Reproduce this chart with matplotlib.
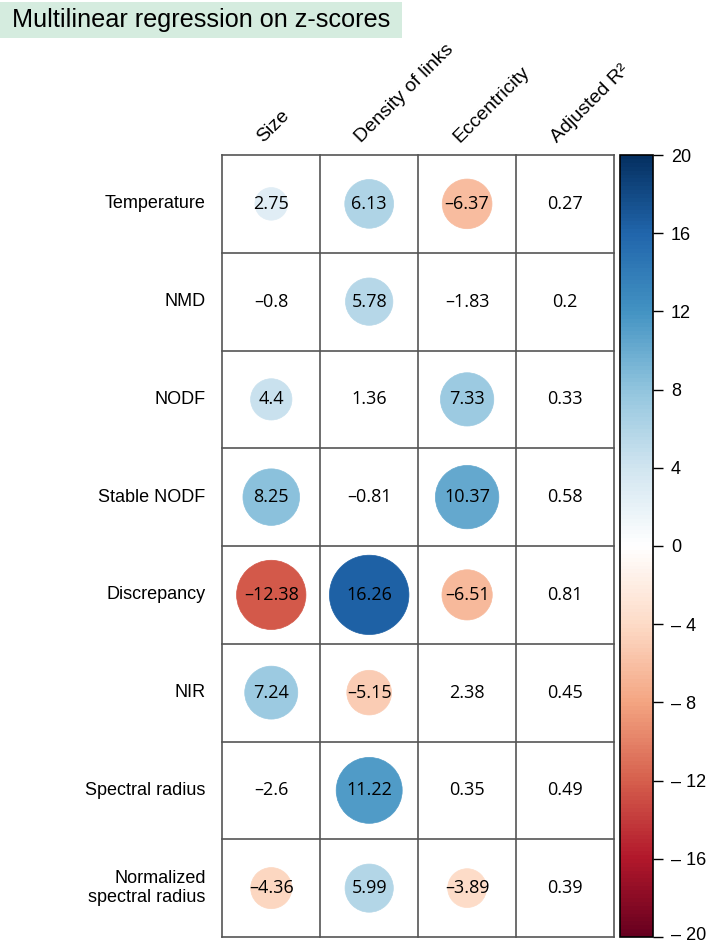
"""Multilinear regression on z-scores, corrplot-style circle grid."""
import numpy as np
import matplotlib
matplotlib.use("Agg")
import matplotlib.pyplot as plt
import matplotlib.patches as mpatches
import matplotlib.transforms as mtransforms
from matplotlib.colors import LinearSegmentedColormap, Normalize
from matplotlib.colorbar import ColorbarBase

ROWS = ["Temperature", "NMD", "NODF", "Stable NODF", "Discrepancy", "NIR",
        "Spectral radius", "Normalized\nspectral radius"]
COLS = ["Size", "Density of links", "Eccentricity", "Adjusted R²"]

size_z = [2.75, -0.8, 4.4, 8.25, -12.38, 7.24, -2.6, -4.36]
density_z = [6.13, 5.78, 1.36, -0.81, 16.26, -5.15, 11.22, 5.99]
ecc_z = [-6.37, -1.83, 7.33, 10.37, -6.51, 2.38, 0.35, -3.89]
adj_r2 = [0.27, 0.2, 0.33, 0.58, 0.81, 0.45, 0.49, 0.39]

# which z-scores get a circle
size_sig = [1, 0, 1, 1, 1, 1, 0, 1]
density_sig = [1, 1, 0, 0, 1, 1, 1, 1]
ecc_sig = [1, 0, 1, 1, 1, 0, 0, 1]

LIM = 20
CB_TICKS = [20, 16, 12, 8, 4, 0, -4, -8, -12, -16, -20]

cmap = LinearSegmentedColormap.from_list("rdbu_corrplot", [
    "#67001F", "#B2182B", "#D6604D", "#F4A582", "#FDDBC7", "#FFFFFF",
    "#D1E5F0", "#92C5DE", "#4393C3", "#2166AC", "#053061"], N=200)
norm = Normalize(-LIM, LIM)

W, H = 709, 943
fig = plt.figure(figsize=(W / 100, H / 100), dpi=100)

# title with green band
fig.patches.append(mpatches.Rectangle((0, 1 - 38 / H), 402 / W, 36 / H,
                                      transform=fig.transFigure, facecolor="#d5ecdf",
                                      edgecolor="none", zorder=0))
fig.text(12 / W, 1 - 20 / H, "Multilinear regression on z-scores", ha="left", va="center",
         fontsize=18.2, family="Liberation Sans", color="black")

gx0, gx1, gy0, gy1 = 222.3, 614, 155, 937
ax = fig.add_axes([gx0 / W, 1 - gy1 / H, (gx1 - gx0) / W, (gy1 - gy0) / H])
ax.set_xlim(0, 4)
ax.set_ylim(8, 0)
ax.set_axis_off()

for k in range(5):
    ax.plot([k, k], [0, 8], color="#555555", lw=1.2, zorder=1, clip_on=False)
for k in range(9):
    ax.plot([0, 4], [k, k], color="#555555", lw=1.2, zorder=1, clip_on=False)

zcols = [(size_z, size_sig), (density_z, density_sig), (ecc_z, ecc_sig)]
for j, (vals, sig) in enumerate(zcols):
    for i, (v, s) in enumerate(zip(vals, sig)):
        if s:
            c = cmap(norm(v))
            ax.add_patch(mpatches.Circle((j + 0.5, i + 0.5), 0.45 * np.sqrt(abs(v) / LIM),
                                         facecolor=c, edgecolor=c, lw=0.5, zorder=2))
        txt = f"{v:g}".replace("-", "\u2013")
        ax.text(j + 0.5, i + 0.5, txt, ha="center", va="center", fontsize=13,
                family="Open Sans", color="black", zorder=3)
for i, v in enumerate(adj_r2):
    ax.text(3.5, i + 0.5, f"{v:g}", ha="center", va="center", fontsize=13,
            family="Open Sans", color="black", zorder=3)

for i, name in enumerate(ROWS):
    ax.text(-0.17, i + 0.5, name, ha="right", va="center", fontsize=13,
            family="Liberation Sans", linespacing=1.2)
for j, name in enumerate(COLS):
    ax.text(j + 0.45, -0.09, name, ha="left", va="bottom", rotation=45,
            rotation_mode="anchor", fontsize=14, family="Liberation Sans")

cax = fig.add_axes([620 / W, 1 - gy1 / H, 33 / W, (gy1 - gy0) / H])
cb = ColorbarBase(cax, cmap=cmap, norm=norm, orientation="vertical", ticks=CB_TICKS)
cb.outline.set_linewidth(1.2)
cb.outline.set_edgecolor("black")
cax.tick_params(axis="y", length=7, width=1, pad=6, labelsize=13)
cax.set_yticklabels([f"{t}" if t >= 0 else f"\u2013 {abs(t)}" for t in CB_TICKS],
                    family="Liberation Sans")
# keep the lowest label inside the canvas
for lab in cax.get_yticklabels():
    if lab.get_text() == "\u2013 20":
        lab.set_transform(lab.get_transform() +
                          mtransforms.ScaledTranslation(0, 4 / 100, fig.dpi_scale_trans))

fig.savefig("out.png", dpi=100, facecolor="white")
